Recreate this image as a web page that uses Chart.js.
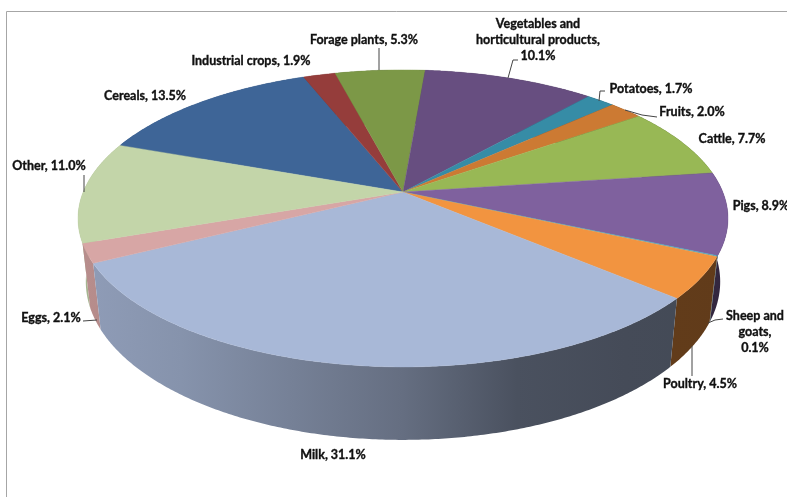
<!DOCTYPE html>
<html><head><meta charset="utf-8">
<style>html,body{margin:0;padding:0;background:#fff;overflow:hidden}canvas{display:block;filter:blur(0.5px)}</style>
<script src="https://cdn.jsdelivr.net/npm/chart.js@4"></script>
</head><body><canvas id="c" width="787" height="497"></canvas>
<script>
const categories = ["Cereals","Industrial crops","Forage plants","Vegetables and horticultural products","Potatoes","Fruits","Cattle","Pigs","Sheep and goats","Poultry","Milk","Eggs","Other"];
const shares = [13.5,1.9,5.3,10.1,1.7,2.0,7.7,8.9,0.1,4.5,31.1,2.1,11.0];
const sliceColors = ["#3e6597","#953d3b","#7c9847","#674e80","#368ca6","#cc7a33","#98b855","#7f619e","#4bacc6","#f29440","#a8b8d7","#d7a6a5","#c3d5a9"];
// label layout: text lines, centre x, first-line centre y
const labelLayout = [
 [["Cereals, 13.5%"],145,96],[["Industrial crops, 1.9%"],251,61],[["Forage plants, 5.3%"],364,40],
 [["Vegetables and","horticultural products,","10.1%"],538,24],[["Potatoes, 1.7%"],651,89],[["Fruits, 2.0%"],692,112],
 [["Cattle, 7.7%"],732,139],[["Pigs, 8.9%"],761,206],[["Sheep and","goats,","0.1%"],755,316],
 [["Poultry, 4.5%"],700,384],[["Milk, 31.1%"],333,455],[["Eggs, 2.1%"],51,318],[["Other, 11.0%"],49,166]];
const leaderLines = [
 [[379,48],[379,70]],[[84,175],[84,192]],[[518,60],[513,60],[508,78]],[[605,91],[600,91],[599,101]],
 [[657,117],[642,115],[625,110]],[[83,321],[97,320]],[[723,319],[715,320],[708,323]],[[692,376],[692,346]]];

// perspective of the disc
const CX=403, CY=192, K=0.178, RX=319.8, RY=143.8, BOTTOM_X=0.976, BOTTOM_Y_A=49.1, BOTTOM_Y_B=1.065;
function proj(a,bottom){
  const w=1-K*Math.sin(a), X=RX*Math.cos(a)/w, Y=CY+RY*Math.sin(a)/w;
  return bottom?[CX+BOTTOM_X*X,BOTTOM_Y_A+BOTTOM_Y_B*Y]:[CX+X,Y];
}
function shade(hex,f){
  const n=parseInt(hex.slice(1),16);
  return `rgb(${Math.round((n>>16)*f)},${Math.round(((n>>8)&255)*f)},${Math.round((n&255)*f)})`;
}
const shadeStops=[[0,.85],[.15,.8],[.5,.6],[.68,.44],[.85,.41],[1,.4]];
const pie3d={id:'pie3d',
 beforeDatasetsDraw(chart){
  const ctx=chart.ctx, meta=chart.getDatasetMeta(0), step=Math.PI/360;
  const arcPts=(s,e,bottom)=>{const p=[],n=Math.max(2,Math.ceil((e-s)/step));for(let i=0;i<=n;i++)p.push(proj(s+(e-s)*i/n,bottom));return p;};
  const order=meta.data.map((el,i)=>i).sort((a,b)=>{
    const m=el=>Math.sin((el.startAngle+el.endAngle)/2);return m(meta.data[a])-m(meta.data[b]);});
  order.forEach(i=>{
    const el=meta.data[i], col=chart.data.datasets[0].backgroundColor[i];
    const top=arcPts(el.startAngle,el.endAngle,false), bot=arcPts(el.startAngle,el.endAngle,true).reverse();
    const g=ctx.createLinearGradient(86,0,720,0);
    shadeStops.forEach(s=>g.addColorStop(s[0],shade(col,s[1])));
    ctx.fillStyle=g;ctx.beginPath();
    top.concat(bot).forEach((p,j)=>j?ctx.lineTo(p[0],p[1]):ctx.moveTo(p[0],p[1]));
    ctx.closePath();ctx.fill();
  });
  meta.data.forEach((el,i)=>{
    ctx.fillStyle=ctx.strokeStyle=chart.data.datasets[0].backgroundColor[i];
    ctx.lineWidth=0.4;ctx.beginPath();ctx.moveTo(CX,CY);
    arcPts(el.startAngle,el.endAngle,false).forEach(p=>ctx.lineTo(p[0],p[1]));
    ctx.closePath();ctx.fill();ctx.stroke();
  });
  return false;
 },
 afterDraw(chart){
  const ctx=chart.ctx;
  ctx.save();
  ctx.strokeStyle='#a6a6a6';ctx.lineWidth=1;
  ctx.beginPath();ctx.moveTo(6.5,497);ctx.lineTo(6.5,11.5);ctx.lineTo(787,11.5);ctx.stroke();
  ctx.strokeStyle='#444';ctx.lineWidth=1;
  leaderLines.forEach(l=>{ctx.beginPath();l.forEach((p,j)=>j?ctx.lineTo(p[0],p[1]):ctx.moveTo(p[0],p[1]));ctx.stroke();});
  ctx.fillStyle='#111';ctx.strokeStyle='#111';ctx.lineWidth=0.35;ctx.font='bold 12.5px Lato';ctx.textAlign='center';ctx.textBaseline='middle';
  labelLayout.forEach(l=>l[0].forEach((t,j)=>{ctx.fillText(t,l[1],l[2]+j*16);ctx.strokeText(t,l[1],l[2]+j*16);}));
  ctx.restore();
 }};
new Chart(document.getElementById('c'),{
 type:'pie',
 data:{labels:categories,datasets:[{data:shares,backgroundColor:sliceColors,borderWidth:0}]},
 options:{responsive:false,animation:false,rotation:-69.9,
  plugins:{legend:{display:false},tooltip:{enabled:false}}},
 plugins:[pie3d]});
</script></body></html>
